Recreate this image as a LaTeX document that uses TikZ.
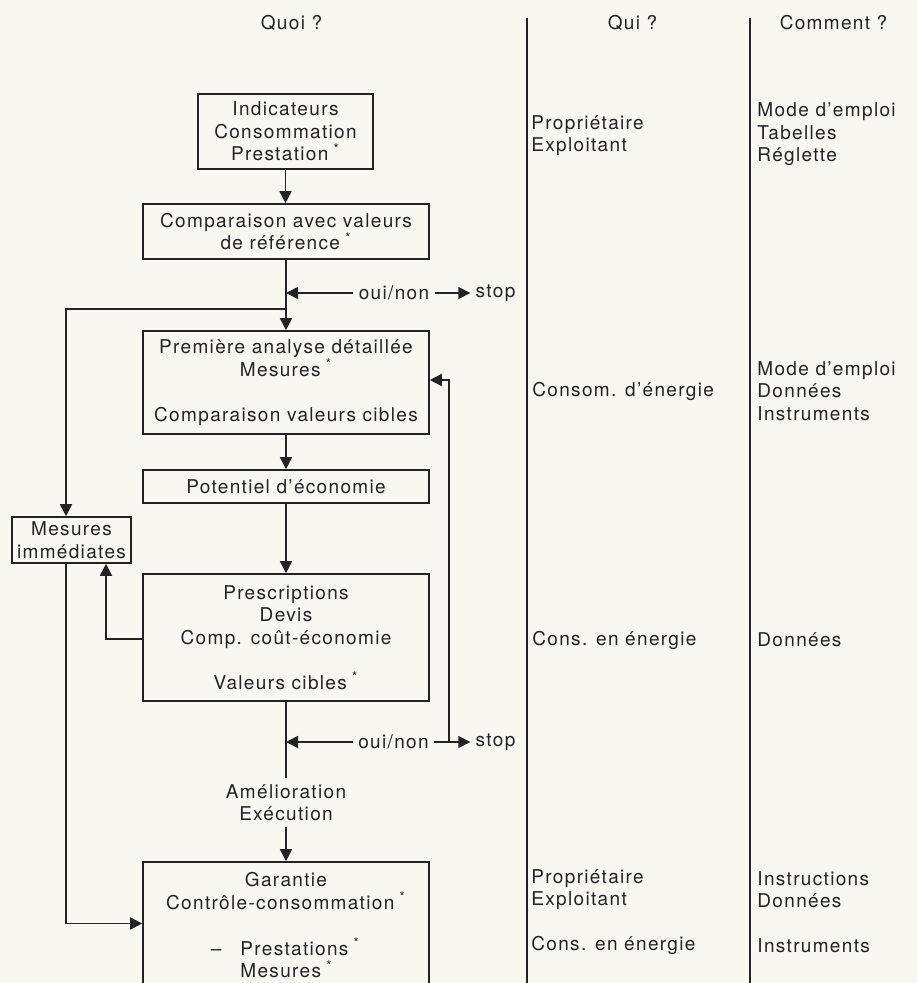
\documentclass[tikz,border=0pt]{standalone}
\usepackage{fontspec}
\setmainfont{TeX Gyre Heros}[LetterSpace=7]
\usetikzlibrary{arrows.meta,calc}
\definecolor{ink}{RGB}{35,35,35}
\definecolor{paper}{RGB}{248,247,242}
\newcommand{\etoile}{\;\textsuperscript{*}}
\begin{document}
\begin{tikzpicture}[x=0.5pt,y=-0.5pt,
  txt/.style={font=\fontsize{9.5}{11.25}\selectfont, text=ink, inner sep=0pt, align=center},
  qbox/.style={txt, draw=ink, line width=0.8pt},
  lbl/.style={txt, align=left, anchor=west},
  conn/.style={draw=ink, line width=0.8pt},
  arr/.style={conn, -{Triangle[length=6pt,width=6pt]}},
  colline/.style={draw=ink, line width=0.8pt}
]
\useasboundingbox (0,0) rectangle (917,983);
\fill[paper] (0,0) rectangle (917,983);
\clip (0,0) rectangle (917,983);

% headers
\node[txt] (hquoi) at (291.5,23) {Quoi ?};
\node[txt] (hqui) at (632.5,23) {Qui ?};
\node[txt] (hcom) at (833.5,23) {Comment ?};

% column lines
\coordinate (c1t) at (527,18);
\coordinate (c1b) at (527,990);
\coordinate (c2t) at (750,18);
\coordinate (c2b) at (750,990);
\draw[colline] (c1t) -- (c1b);
\draw[colline] (c2t) -- (c2b);

% boxes
\node[qbox, minimum width=87.5pt, minimum height=37.5pt] (ind) at (285.5,131.5) {Indicateurs\\Consommation\\Prestation\etoile};
\node[qbox, minimum width=143pt, minimum height=27.5pt] (comp) at (286,231.5) {Comparaison avec valeurs\\de référence\etoile};
\node[qbox, minimum width=143pt, minimum height=51.5pt] (ana) at (286,382.5) {Première analyse détaillée\\Mesures\etoile\\[11.25pt]Comparaison valeurs cibles};
\node[qbox, minimum width=143pt, minimum height=16.5pt] (pot) at (286,486.5) {Potentiel d’économie};
\node[qbox, minimum width=59.5pt, minimum height=23pt] (mes) at (71.5,540) {Mesures\\immédiates};
\node[qbox, minimum width=143pt, minimum height=63.5pt] (pres) at (286,637.5) {Prescriptions\\Devis\\Comp. coût-économie\\[11.25pt]Valeurs cibles\etoile};
\node[qbox, minimum width=143pt, minimum height=61.5pt] (gar) at (286,923.5) {};
\node[txt] (gartxt) at (286,891) {Garantie\\Contrôle-consommation\etoile};
\node[lbl] (garlist) at (240,958) {\llap{–\quad}Prestations\etoile\\Mesures\etoile};
\node[txt, inner ysep=3pt] (ame) at (286,802.5) {Amélioration\\Exécution};

% oui/non
\node[txt, inner xsep=2.5pt] (oui1) at (394,293) {oui/non};
\node[txt, inner xsep=2.5pt] (stop1) at (495.5,293) {stop};
\node[txt, inner xsep=2.5pt] (oui2) at (393.5,742) {oui/non};
\node[txt, inner xsep=2.5pt] (stop2) at (495.5,742) {stop};

% right columns
\node[lbl] (qui1) at (531,135.5) {Propriétaire\\Exploitant};
\node[lbl] (com1) at (757,134.5) {Mode d’emploi\\Tabelles\\Réglette};
\node[lbl] (qui2) at (532,391) {Consom. d’énergie};
\node[lbl] (com2) at (757,391) {Mode d’emploi\\Données\\Instruments};
\node[lbl] (qui3) at (532,640) {Cons. en énergie};
\node[lbl] (com3) at (757,640) {Données};
\node[lbl] (qui4) at (531,912) {Propriétaire\\Exploitant\\[11.25pt]Cons. en énergie};
\node[lbl] (com4) at (757,912) {Instructions\\Données\\[11.25pt]Instruments};

% connectors
\draw[arr] (ind.south) -- (ind.south |- comp.north);
\draw[arr] (comp.south) -- (ana.north);
\coordinate (j1) at (comp.south |- oui1.west);
\draw[arr] (oui1.west) -- (j1);
\draw[arr] (oui1.east) -- (stop1.west);
\coordinate (j2) at (286,309);
\draw[arr] (j2) -| ([xshift=-2.75pt]mes.north);
\draw[arr] (ana.south) -- (pot.north);
\draw[arr] (pot.south) -- (pres.north);
\draw[arr] ([yshift=-0.75pt]pres.west) -| ([xshift=17.25pt]mes.south);
\draw[arr] ([xshift=-2.75pt]mes.south) |- (gar.west);
\draw[conn] (pres.south) -- (ame.north);
\draw[arr] (ame.south) -- (gar.north);
\coordinate (j3) at (pres.south |- oui2.west);
\draw[arr] (oui2.west) -- (j3);
\draw[arr] (oui2.east) -- (stop2.west);
\coordinate (loop) at (449,742);
\draw[arr] (loop) |- ([yshift=1.25pt]ana.east);
\end{tikzpicture}
\end{document}
